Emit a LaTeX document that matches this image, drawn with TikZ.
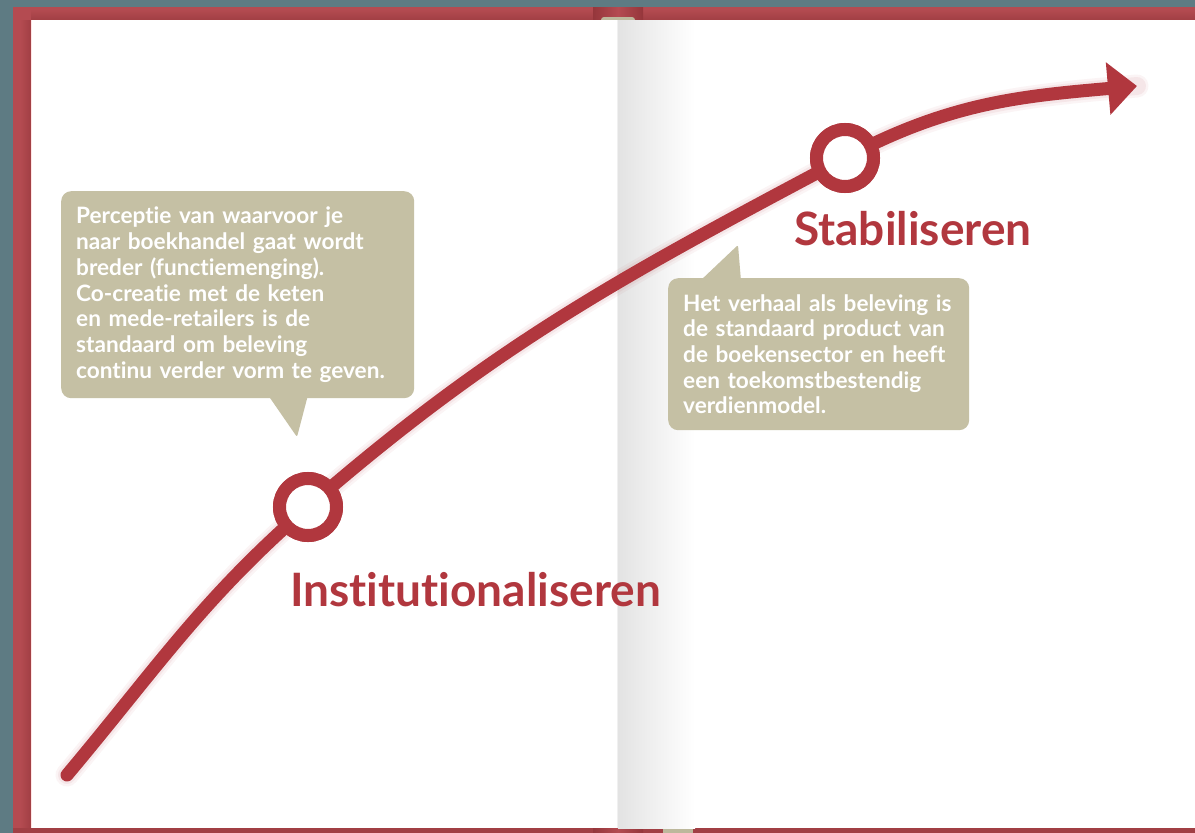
\documentclass[tikz,border=0pt]{standalone}
\usepackage{fontspec}
\setmainfont{Lato}[Ligatures={NoCommon}]
\usetikzlibrary{arrows.meta}
\definecolor{bgteal}{HTML}{5E7B83}
\definecolor{framered}{HTML}{B44B51}
\definecolor{framedark}{HTML}{A13F44}
\definecolor{spinedark}{HTML}{95363B}
\definecolor{curvered}{HTML}{B1373E}
\definecolor{bubblebeige}{HTML}{C5C0A4}
\definecolor{tabbeige}{HTML}{BDB89C}
\tikzset{
  bubble/.style={fill=bubblebeige, rounded corners=10pt, text=white, align=left,
    inner xsep=15pt, inner ysep=0pt, anchor=north west,
    font=\fontsize{22.6}{25.7}\selectfont\bfseries},
  stagetitle/.style={text=curvered, anchor=base west, inner sep=0pt,
    font=\fontsize{46}{50}\selectfont\bfseries},
  milestone/.style={circle, draw=curvered, line width=13pt, fill=white,
    minimum size=57pt, inner sep=0pt},
  curveline/.style={draw=curvered, line width=13pt, line cap=round,
    -{Triangle[width=51pt,length=29pt]}},
  halo/.style={draw=curvered, line cap=round, opacity=#1},
}
\begin{document}
\begin{tikzpicture}[x=1pt,y=-1pt]
\useasboundingbox (0,0) rectangle (1195,833);
% background and book frame
\fill[bgteal] (0,0) rectangle (1195,833);
\fill[framered] (13,7) rectangle (1195,833);
\shade[left color=framered, right color=framedark] (20,20) rectangle (31,828);
\shade[top color=framered, bottom color=framedark] (31,9) rectangle (1195,20);
\fill[framedark] (13,828) rectangle (1195,833);
% spine
\shade[left color=spinedark, right color=spinedark, middle color=framered] (593,7) rectangle (643,20);
\shade[left color=spinedark, right color=spinedark, middle color=framered] (593,828) rectangle (643,833);
\fill[tabbeige, rounded corners=3pt] (601,17) rectangle (635,24);
\fill[tabbeige] (663,828) rectangle (693,833);
% pages
\fill[white] (31,20) rectangle (1195,828);
\fill[pink!40] (31,20) rectangle (32,828);
\shade[left color=black!11, right color=white] (618,20) rectangle (695,828);
\fill[black!6] (617,20) rectangle (618,828);
% curve
\coordinate (s) at (67,775);
\node[milestone] (c1) at (308,507) {};
\node[milestone] (c2) at (845,158) {};
\coordinate (e) at (1137,86);
\draw[halo=0.05, line width=23pt] (s) to[out=50,in=221] (c1.center) to[out=41,in=208] (c2.center) to[out=28,in=185] (e);
\draw[halo=0.07, line width=18pt] (s) to[out=50,in=221] (c1.center) to[out=41,in=208] (c2.center) to[out=28,in=185] (e);
\draw[curveline] (s) to[out=50,in=221] (c1.center) to[out=41,in=208] (c2.center) to[out=28,in=185] (e);
\node[milestone] at (c1) {};
\node[milestone] at (c2) {};
% bubbles
\node[bubble, text width=323pt, minimum height=207pt] (b1) at (61,191)
  {Perceptie van waarvoor je\\naar boekhandel gaat wordt\\breder (functiemenging).\\Co-creatie met de keten\\en mede-retailers is de\\standaard om beleving\\continu verder vorm te geven.};
\fill[bubblebeige, rounded corners=2pt] (268,395) -- (308,395) -- (297,437) -- cycle;
\node[bubble, text width=271pt, minimum height=152pt] (b2) at (668,278)
  {Het verhaal als beleving is\\de standaard product van\\de boekensector en heeft\\een toekomstbestendig\\verdienmodel.};
\fill[bubblebeige, rounded corners=2pt] (700,281) -- (738,245) -- (741,281) -- cycle;
% titles
\node[stagetitle] (t1) at (290,606) {Institutionaliseren};
\node[stagetitle] (t2) at (794,245) {Stabiliseren};
\end{tikzpicture}
\end{document}
